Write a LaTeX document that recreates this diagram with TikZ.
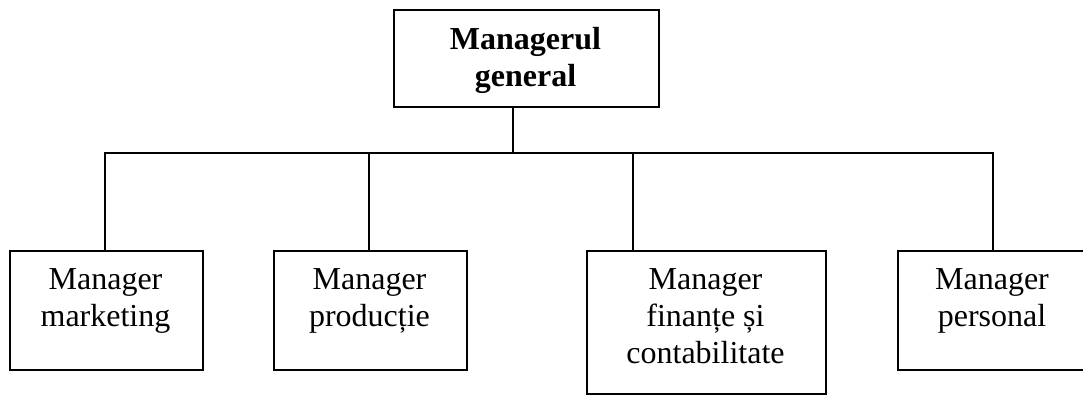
\documentclass[tikz,border=0pt]{standalone}
\usepackage{fontspec}
\setmainfont{Liberation Serif}
\usetikzlibrary{calc}
\tikzset{
  unitbox/.style={draw, line width=1.8pt, inner sep=0pt, anchor=north west},
  boxtext/.style={anchor=base, align=center, inner sep=0pt,
    font=\fontsize{32}{37}\selectfont},
  headtext/.style={boxtext, font=\fontsize{32}{37}\selectfont\bfseries},
  link/.style={line width=1.8pt}
}
\begin{document}
\begin{tikzpicture}[x=1pt, y=-1pt]
\useasboundingbox (0,0) rectangle (1083,394);
% head of the chart (text anchors sit on the last baseline of each text)
\node[unitbox, minimum width=265pt, minimum height=97pt] (gm) at (393,9) {};
\node[headtext] (gmt) at (525.5,86) {Managerul\\general};
% department boxes
\node[unitbox, minimum width=193pt, minimum height=119pt] (mk) at (9,250) {};
\node[unitbox, minimum width=193pt, minimum height=119pt] (pr) at (273,250) {};
\node[unitbox, minimum width=239pt, minimum height=143pt] (fi) at (586,250) {};
\node[unitbox, minimum width=200pt, minimum height=119pt] (pe) at (897,250) {};
\node[boxtext] (mkt) at (105.5,326) {Manager\\marketing};
\node[boxtext] (prt) at (369.5,326) {Manager\\producție};
\node[boxtext] (fit) at (705.5,363) {Manager\\finanțe și\\contabilitate};
\node[boxtext] (pet) at (992,326) {Manager\\personal};
% connectors
\coordinate (bus) at (513,153);
\draw[link] (gm.south -| bus) -- (bus);
\draw[link] (mk.north -| 105,0) |- (bus) -| (pe.north -| 993,0);
\draw[link] (pr.north -| 369,0) -- (369,153);
\draw[link] (fi.north -| 633,0) -- (633,153);
\end{tikzpicture}
\end{document}
